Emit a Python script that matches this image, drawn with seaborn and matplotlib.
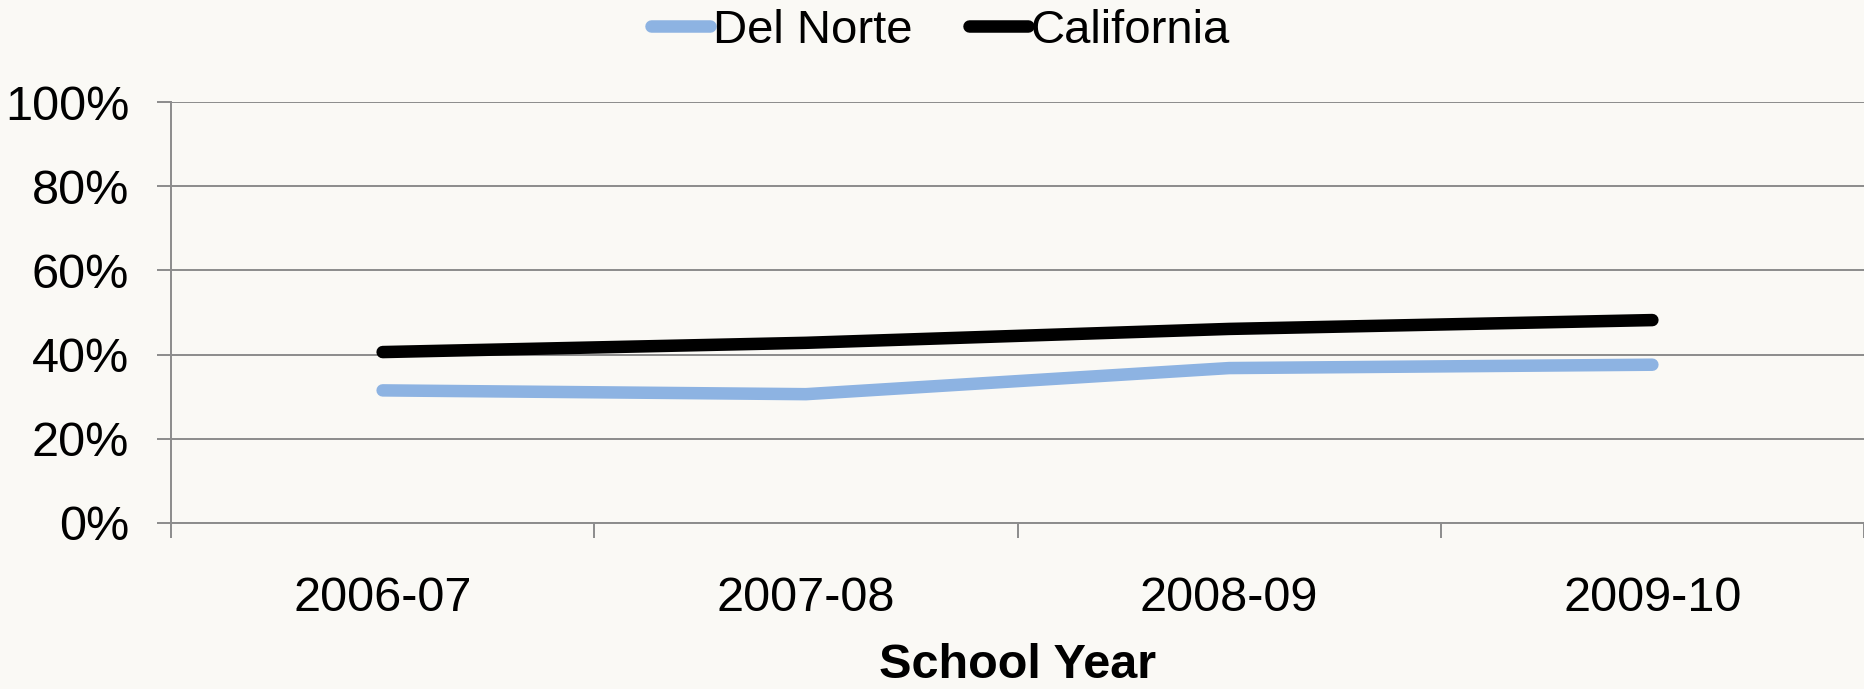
import pandas as pd
import numpy as np
import matplotlib
matplotlib.use("Agg")
import matplotlib.pyplot as plt
import seaborn as sns
from matplotlib.ticker import FixedLocator, PercentFormatter

# Values (percent)
years = ["2006-07", "2007-08", "2008-09", "2009-10"]
del_norte = [31.5, 30.6, 36.8, 37.6]
california = [40.6, 42.8, 46.1, 48.2]
series_names = ["Del Norte", "California"]
yticks = [0, 20, 40, 60, 80, 100]

df = pd.DataFrame({
    "School Year": years * 2,
    "value": del_norte + california,
    "region": [series_names[0]] * len(years) + [series_names[1]] * len(years),
})

bg = "#FAF9F5"
grid_col = "#8C8C8C"

sns.set_theme(style="white")
plt.rcParams["font.family"] = ["Liberation Sans", "DejaVu Sans"]
plt.rcParams["text.color"] = "black"

fig = plt.figure(figsize=(18.64, 6.89), dpi=100, facecolor=bg)
ax = fig.add_axes([171 / 1864, 1 - 523 / 689, 1 - 171 / 1864, 421 / 689])
ax.set_facecolor(bg)

sns.lineplot(data=df, x="School Year", y="value", hue="region",
             palette={"Del Norte": "#8DB3E2", "California": "#000000"},
             linewidth=9, sort=False, ax=ax, legend=True)
for ln in ax.lines:
    ln.set_solid_capstyle("round")

ax.set_xlim(-0.5, 3.5)
ax.set_ylim(0, 100)
ax.set_yticks(yticks)
ax.yaxis.set_major_formatter(PercentFormatter(decimals=0))
ax.yaxis.grid(True, color=grid_col, linewidth=1.4)
ax.set_axisbelow(True)

for s in ["top", "right"]:
    ax.spines[s].set_visible(False)
ax.spines["left"].set_color(grid_col)
ax.spines["left"].set_linewidth(1.4)
ax.spines["bottom"].set_color(grid_col)
ax.spines["bottom"].set_linewidth(1.4)

ax.tick_params(axis="y", which="major", length=10, width=1.4, color=grid_col,
               pad=20, labelsize=35, left=True, labelcolor="black")
ax.tick_params(axis="x", which="major", length=0, pad=38, labelsize=35,
               labelcolor="black")
ax.xaxis.set_minor_locator(FixedLocator(np.arange(-0.5, 4, 1.0)))
ax.tick_params(axis="x", which="minor", length=11, width=1.4, color=grid_col,
               bottom=True)

ax.set_ylabel("")
ax.set_xlabel("School Year", fontsize=35, fontweight="bold", color="black")
ax.xaxis.set_label_coords(0.5, -0.284)

handles, labels = ax.get_legend_handles_labels()
ax.legend_.remove()
leg = fig.legend(handles, labels, loc="center", bbox_to_anchor=(0.5045, 1 - 31 / 689),
                 ncol=2, frameon=False, fontsize=34, handlelength=1.25,
                 handletextpad=0.05, columnspacing=1.2, labelcolor="black")
for h in leg.legend_handles:
    h.set_linewidth(9)
    h.set_solid_capstyle("round")

fig.savefig("out.png", dpi=100, facecolor=bg)
